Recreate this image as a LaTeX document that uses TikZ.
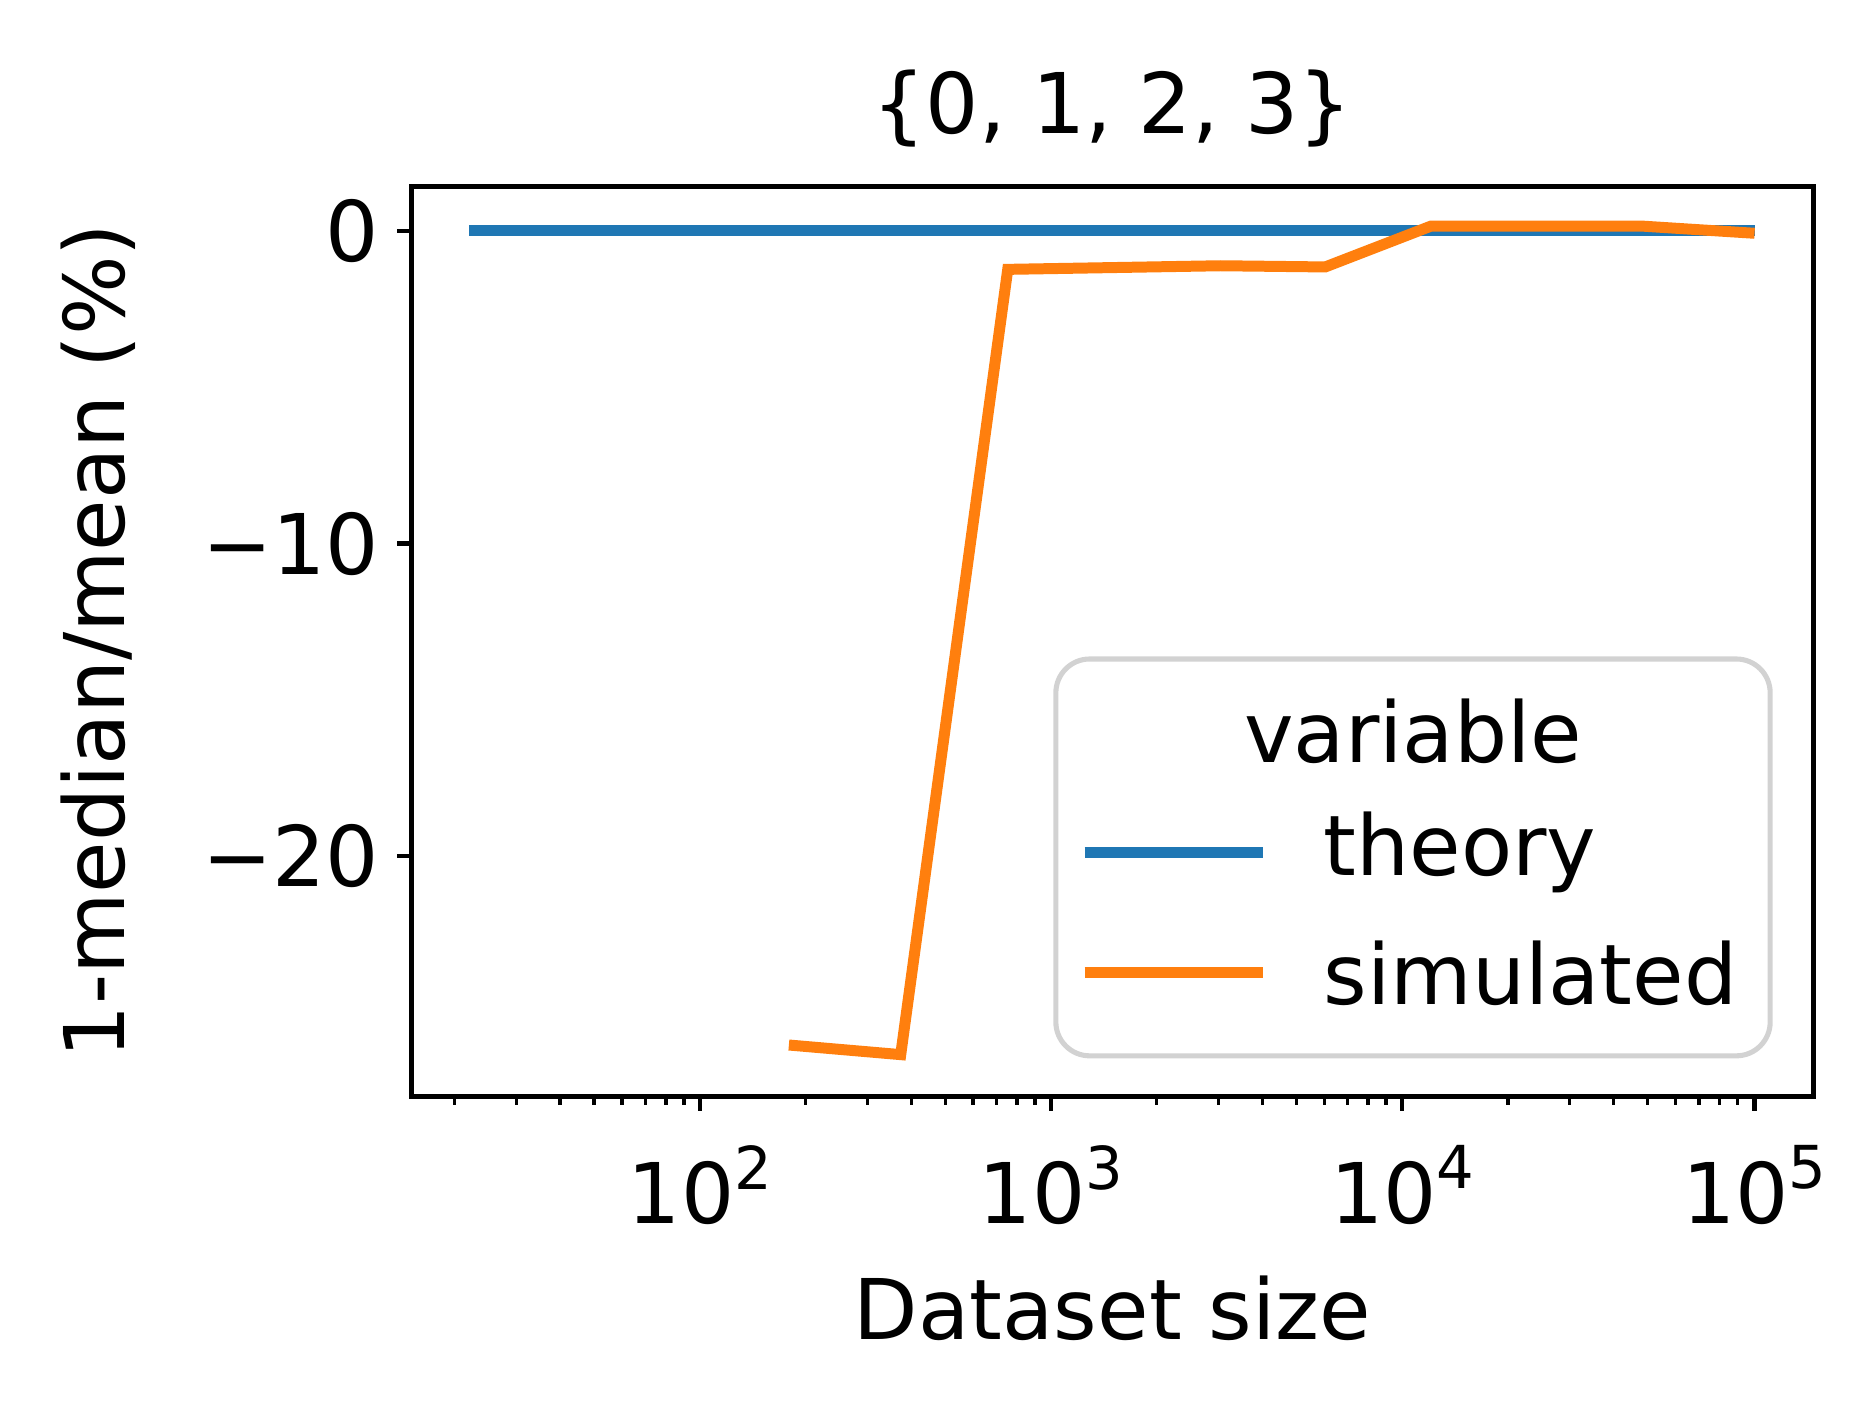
\documentclass[tikz,border=0pt]{standalone}
\usepackage{fontspec}
\setmainfont{DejaVu Sans}
\definecolor{mplblue}{HTML}{1F77B4}
\definecolor{mplorange}{HTML}{FF7F0E}
\newcommand{\tenpow}[1]{10\raisebox{0.75ex}{\fontsize{14}{16}\selectfont #1}}
\begin{document}
\begin{tikzpicture} [
        x=0.01cm, y=-0.01cm,
        label text/.style = {font=\fontsize{19.8}{23}\selectfont, inner sep=0pt},
        series/.style = {line width=2.6pt, line join=miter},
        tick/.style = {line width=1pt},
    ]
    \useasboundingbox (0,0) rectangle (1560,1168);
    % axes frame
    \draw[line width=1.3pt] (342,155) rectangle (1508,912);
    % y ticks and labels
    \foreach \py/\lab in {192/0, 452/−10, 712/−20} {
        \draw[tick] (342,\py) -- (330,\py);
        \node[label text, anchor=east] (yl\py) at (316,\py) {\lab};
    }
    % x major ticks
    \foreach \px/\ex in {582/2, 874/3, 1166/4, 1459/5} {
        \draw[tick] (\px,912) -- (\px,924);
        \node[label text, anchor=north] (xl\ex) at (\px,952) {\tenpow{\ex}};
    }
    % x minor ticks
    \foreach \d in {0,1,2,3}
        \foreach \m in {2,...,9} {
            \pgfmathsetmacro{\px}{290 + 292*\d + 292*log10(\m)}
            \draw[line width=0.8pt] (\px,912) -- (\px,919);
        }
    % titles
    \node[label text] (title) at (925,90) {\{0, 1, 2, 3\}};
    \node[label text] (xlabel) at (925,1088) {Dataset size};
    \node[label text, rotate=90] (ylabel) at (82,533) {1-median/mean (\%)};
    % theory line
    \coordinate (t0) at (390,192);
    \coordinate (t1) at (1459,192);
    \draw[series, mplblue] (t0) -- (t1);
    % simulated line
    \foreach \name/\px/\py in {s1/656/869, s2/749/877, s3/838/224,
            s4/1015/221, s5/1102/222, s6/1190/188, s7/1365/188, s8/1459/194}
        \coordinate (\name) at (\px,\py);
    \draw[series, mplorange] (s1) -- (s2) -- (s3) -- (s4) -- (s5) -- (s6) -- (s7) -- (s8);
    % legend
    \draw[line width=1.2pt, gray!35, fill=white, rounded corners=8pt]
        (878,548) rectangle (1472,878);
    \node[label text] (legtitle) at (1175,608) {variable};
    \coordinate (la) at (902,709); \coordinate (lb) at (1050,709);
    \coordinate (lc) at (902,809); \coordinate (ld) at (1050,809);
    \draw[series, mplblue] (la) -- (lb);
    \draw[series, mplorange] (lc) -- (ld);
    \node[label text, anchor=west] (legtheory) at (1100,709) {theory};
    \node[label text, anchor=west] (legsim) at (1100,809) {simulated};
\end{tikzpicture}
\end{document}
